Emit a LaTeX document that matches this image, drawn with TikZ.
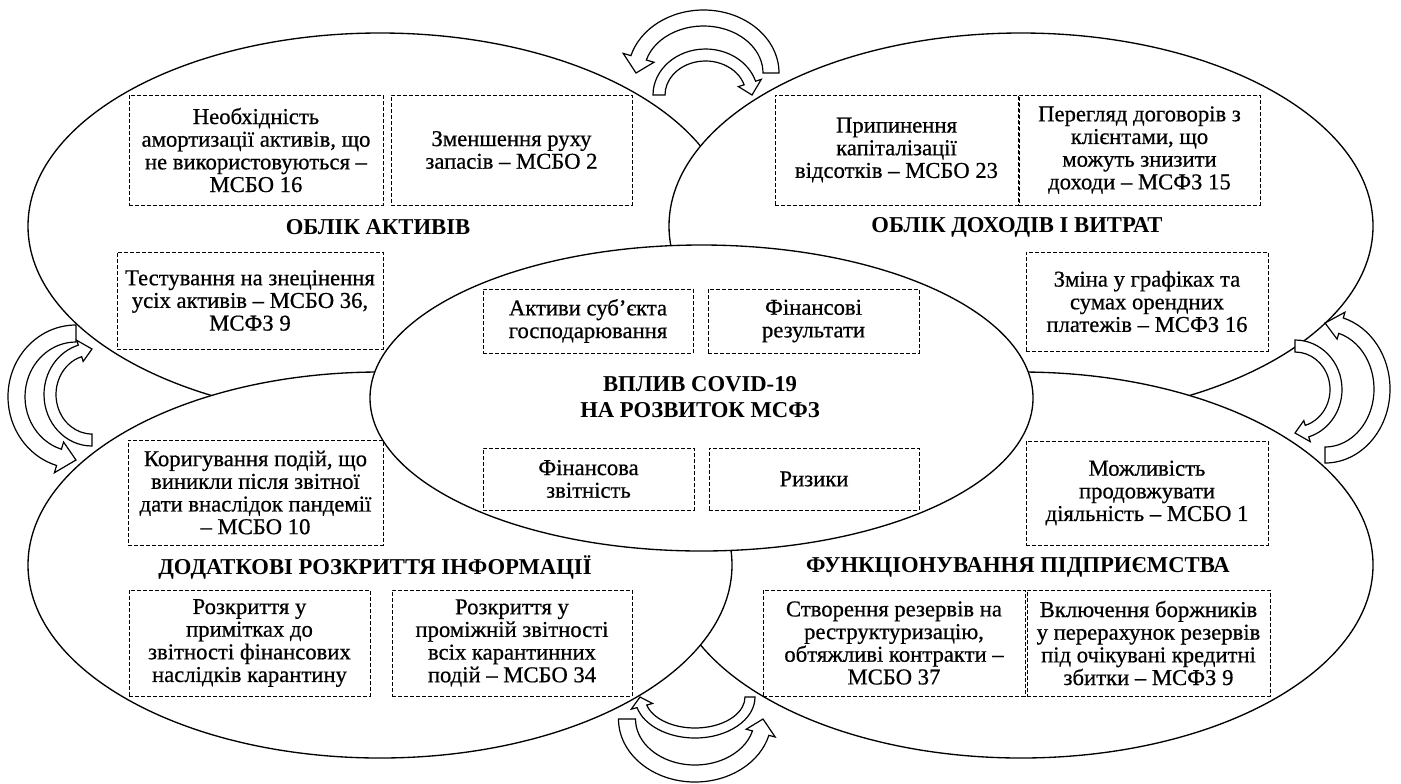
\documentclass[tikz,border=0pt]{standalone}
\usepackage{fontspec}
\setmainfont{Liberation Serif}
\newfontfamily\heavyserif[FakeBold=0.6]{Liberation Serif}
\usetikzlibrary{shapes.geometric}
\tikzset{
 ell/.style={ellipse, draw, fill=white, line width=1pt, inner sep=0pt},
 bigell/.style={ell, minimum width=528pt, minimum height=289.5pt},
 dbox/.style 2 args={draw, dash pattern=on 3pt off 1.5pt, line width=0.7pt, align=center, inner sep=0pt,
   minimum width=#1*0.75pt, minimum height=#2*0.75pt, font=\heavyserif\fontsize{17}{17}\selectfont},
 head/.style={font=\bfseries\fontsize{17}{19.5}\selectfont, align=center, inner sep=0pt},
 barrow/.style={draw, fill=white, line width=0.9pt, line join=miter}
}
% curved block arrow: cx cy a b halfband halfhead startangle baseangle tipangle
\newcommand{\bentarrow}[9]{%
 \pgfmathsetmacro\rxo{#3+#5}\pgfmathsetmacro\ryo{#4+#5}%
 \pgfmathsetmacro\rxi{#3-#5}\pgfmathsetmacro\ryi{#4-#5}%
 \pgfmathsetmacro\rxho{#3+#6}\pgfmathsetmacro\ryho{#4+#6}%
 \pgfmathsetmacro\rxhi{#3-#6}\pgfmathsetmacro\ryhi{#4-#6}%
 \begin{scope}[shift={(#1,#2)}]
 \draw[barrow] (#7:{\rxo} and {\ryo})
   arc[start angle=#7, end angle=#8, x radius=\rxo, y radius=\ryo]
   -- (#8:{\rxho} and {\ryho}) -- (#9:{#3} and {#4}) -- (#8:{\rxhi} and {\ryhi})
   -- (#8:{\rxi} and {\ryi})
   arc[start angle=#8, end angle=#7, x radius=\rxi, y radius=\ryi] -- cycle;
 \end{scope}}
\begin{document}
\begin{tikzpicture}[x=0.75pt, y=-0.75pt]
\useasboundingbox (0,0) rectangle (1401,783);
% ellipses
\node[bigell] (TL) at (380,226) {};
\node[bigell] (TR) at (1021,226) {};
\node[bigell] (BR) at (1021,565) {};
\node[bigell] (BL) at (380,565) {};
\node[ell, minimum width=497.25pt, minimum height=229.5pt] (C) at (701.5,398) {};
% headings
\node[head] (h1) at (378,227) {ОБЛІК АКТИВІВ};
\node[head] (h2) at (1017,227) {ОБЛІК ДОХОДІВ І ВИТРАТ};
\node[head] (h3) at (375,567) {ДОДАТКОВІ РОЗКРИТТЯ ІНФОРМАЦІЇ};
\node[head] (h4) at (1018,567) {ФУНКЦІОНУВАННЯ ПІДПРИЄМСТВА};
\node[head] (h5) at (700,397) {ВПЛИВ COVID-19\\НА РОЗВИТОК МСФЗ};
% boxes
\node[dbox={254}{110}] (b1) at (256,150) {Необхідність\\амортизації активів, що\\не використовуються –\\МСБО 16};
\node[dbox={241}{110}] (b2) at (511.5,150) {Зменшення руху\\запасів – МСБО 2};
\node[dbox={266}{97}] (b3) at (250,300.5) {Тестування на знецінення\\усіх активів – МСБО 36,\\МСФЗ 9};
\node[dbox={243}{110}] (b4) at (896.5,150) {Припинення\\капіталізації\\відсотків – МСБО 23};
\node[dbox={241}{110}] (b5) at (1139.5,150) {Перегляд договорів з\\клієнтами, що\\можуть знизити\\доходи – МСФЗ 15};
\node[dbox={242}{99}] (b6) at (1147,301.5) {Зміна у графіках та\\сумах орендних\\платежів – МСФЗ 16};
\node[dbox={210}{64}] (b7) at (588,321) {Активи суб’єкта\\господарювання};
\node[dbox={211}{64}] (b8) at (813.5,321) {Фінансові\\результати};
\node[dbox={211}{62}] (b9) at (588.5,479) {Фінансова\\звітність};
\node[dbox={210}{62}] (b10) at (814,479) {Ризики};
\node[dbox={255}{105}] (b11) at (255.5,492.5) {Коригування подій, що\\виникли після звітної\\дати внаслідок пандемії\\– МСБО 10};
\node[dbox={241}{106}] (b12) at (249.5,643) {Розкриття у\\примітках до\\звітності фінансових\\наслідків карантину};
\node[dbox={240}{106}] (b13) at (512,643) {Розкриття у\\проміжній звітності\\всіх карантинних\\подій – МСБО 34};
\node[dbox={242}{104}] (b14) at (1147,493) {Можливість\\продовжувати\\діяльність – МСБО 1};
\node[dbox={262}{106}] (b15) at (894,643) {Створення резервів на\\реструктуризацію,\\обтяжливі контракти –\\МСБО 37};
\node[dbox={243}{106}] (b16) at (1148.5,643) {Включення боржників\\у перерахунок резервів\\під очікувані кредитні\\збитки – МСФЗ 9};
% curved arrows
\bentarrow{703.5}{73}{67.5}{55}{8}{16}{0}{-164}{-180}
\bentarrow{705.5}{95}{46.5}{40}{6}{12}{-180}{-17.5}{0}
\bentarrow{695}{697}{55}{36}{5}{11}{0}{165}{180}
\bentarrow{695}{719}{68}{54.5}{8.5}{15}{180}{15}{0}
\bentarrow{76}{396.75}{59.5}{63.25}{8.5}{16}{-90}{-253.4}{-270}
\bentarrow{92}{394.5}{42}{45.5}{6}{11}{90}{253.4}{270}
\bentarrow{1325}{389}{57}{66}{8}{14}{90}{-73.7}{-90}
\bentarrow{1295}{389.5}{41}{43.5}{6}{11}{-90}{73}{90}
\end{tikzpicture}
\end{document}
